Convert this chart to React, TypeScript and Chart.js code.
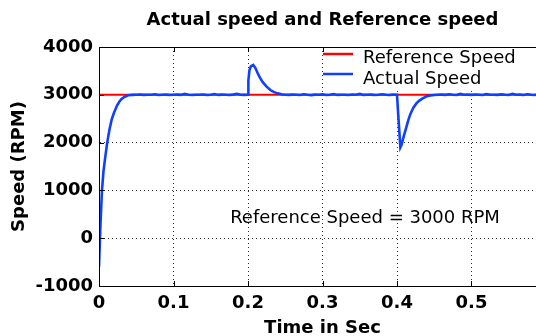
import React, { useEffect, useRef } from "react";
import { Chart, registerables } from "chart.js";

Chart.register(...registerables);

const titleText = "Actual speed and Reference speed";
const xTitle = "Time in Sec";
const yTitle = "Speed (RPM)";
const annotationText = "Reference Speed = 3000 RPM";
const legendLabels = ["Reference Speed", "Actual Speed"];

const referenceTime = [0, 0.6];
const referenceSpeed = [3000, 3000];

const actualTime = [
  0, 0.002, 0.004, 0.006, 0.008, 0.011, 0.014, 0.017, 0.02, 0.024, 0.027, 0.03, 0.034, 0.039, 0.045, 0.05,
  0.055, 0.06, 0.065, 0.07, 0.075, 0.08, 0.085, 0.09, 0.095, 0.1, 0.105, 0.11, 0.115, 0.12, 0.125, 0.13,
  0.135, 0.14, 0.145, 0.15, 0.155, 0.16, 0.165, 0.17, 0.175, 0.18, 0.185, 0.19, 0.195,
  0.2, 0.2005, 0.202, 0.204, 0.207, 0.21, 0.213, 0.216, 0.22, 0.225, 0.23, 0.235, 0.24, 0.245, 0.25,
  0.255, 0.26, 0.265, 0.27, 0.275, 0.28, 0.285, 0.29, 0.295, 0.3, 0.305, 0.31, 0.315, 0.32, 0.325, 0.33,
  0.335, 0.34, 0.345, 0.35, 0.355, 0.36, 0.365, 0.37, 0.375, 0.38, 0.385, 0.39, 0.395,
  0.4, 0.402, 0.4045, 0.406, 0.409, 0.412, 0.415, 0.418, 0.422, 0.426, 0.43, 0.435, 0.44, 0.445, 0.45, 0.455,
  0.46, 0.465, 0.47, 0.475, 0.48, 0.485, 0.49, 0.495, 0.5, 0.505, 0.51, 0.515, 0.52, 0.525, 0.53,
  0.535, 0.54, 0.545, 0.55, 0.555, 0.56, 0.565, 0.57, 0.575, 0.58, 0.585, 0.59, 0.595, 0.6,
];

const actualSpeed = [
  -600, 300, 1000, 1400, 1650, 2000, 2270, 2480, 2620, 2770, 2850, 2910, 2955, 2990, 2998, 3000,
  3005, 2998, 3002, 3000, 3012, 2996, 3000, 3004, 2995, 3000, 3003, 2998, 3018, 3000, 2997, 3002,
  3000, 3006, 2996, 3000, 3015, 2998, 3003, 3000, 2995, 3004, 3022, 3000, 2998,
  3000, 3300, 3520, 3600, 3625, 3560, 3450, 3360, 3260, 3170, 3100, 3055, 3030, 3012, 3000,
  2998, 3004, 3000, 2996, 3010, 3000, 2994, 3003, 3000, 3008, 2997, 3000, 3016, 2998, 3002, 3000,
  2995, 3005, 3000, 3020, 2998, 3000, 3004, 2996, 3000, 3012, 3000, 2997, 3003,
  3000, 2500, 1900, 1950, 2130, 2290, 2460, 2600, 2730, 2820, 2880, 2930, 2968, 2985, 2995, 3000,
  3004, 2998, 3010, 3000, 2996, 3018, 3000, 3003, 2998, 3006, 3000, 2995, 3014, 3000, 3002,
  2998, 3008, 3000, 2996, 3020, 3000, 3003, 2997, 3010, 3000, 2996, 3012, 3000, 3004,
];

const xTickStep = 0.1;
const yTickStep = 1000;

const FONT = "'DejaVu Sans', sans-serif";

export default function App() {
  const canvasRef = useRef<HTMLCanvasElement | null>(null);

  useEffect(() => {
    const canvas = canvasRef.current;
    if (!canvas) return;

    const overlay = {
      id: "overlay",
      afterDatasetsDraw(chart: any) {
        const { ctx, chartArea } = chart;
        const { left, top, right, bottom } = chartArea;
        ctx.save();
        ctx.strokeStyle = "#000";
        ctx.lineWidth = 1;
        ctx.setLineDash([]);
        const ys = chart.scales.y;
        const xs = chart.scales.x;
        ys.ticks.forEach((t: any) => {
          const py = Math.round(ys.getPixelForValue(t.value)) + 0.5;
          ctx.beginPath();
          ctx.moveTo(left, py);
          ctx.lineTo(left + 5, py);
          ctx.stroke();
        });
        xs.ticks.forEach((t: any) => {
          const px = Math.round(xs.getPixelForValue(t.value)) + 0.5;
          ctx.beginPath();
          ctx.moveTo(px, bottom);
          ctx.lineTo(px, bottom - 5);
          ctx.moveTo(px, top);
          ctx.lineTo(px, top + 5);
          ctx.stroke();
        });
        // legend box
        ctx.fillStyle = "#ffffff";
        ctx.fillRect(325, top + 1, right - 325, 43);
        const colors = ["#ff0000", "#1040ff"];
        const lineY = [54, 74];
        const textY = [63, 84];
        ctx.font = `18px ${FONT}`;
        ctx.textAlign = "left";
        ctx.textBaseline = "alphabetic";
        for (let i = 0; i < legendLabels.length; i++) {
          ctx.strokeStyle = colors[i];
          ctx.lineWidth = 2.5;
          ctx.beginPath();
          ctx.moveTo(323, lineY[i]);
          ctx.lineTo(353, lineY[i]);
          ctx.stroke();
          ctx.fillStyle = "#000";
          ctx.fillText(legendLabels[i], 363, textY[i]);
        }
        // annotation
        ctx.textAlign = "center";
        ctx.fillText(annotationText, 365, 223);
        // box
        ctx.strokeStyle = "#000";
        ctx.lineWidth = 1;
        ctx.strokeRect(left + 0.5, top + 0.5, right - left, bottom - top);
        // title
        ctx.font = `bold 18px ${FONT}`;
        ctx.textAlign = "center";
        ctx.fillText(titleText, (left + right) / 2, 25);
        ctx.restore();
      },
    };

    const chart = new Chart(canvas, {
      type: "line",
      data: {
        datasets: [
          {
            label: legendLabels[1],
            data: actualTime.map((t, i) => ({ x: t, y: actualSpeed[i] })),
            borderColor: "#1040ff",
            borderWidth: 2.6,
            pointRadius: 0,
            tension: 0,
          },
          {
            label: legendLabels[0],
            data: referenceTime.map((t, i) => ({ x: t, y: referenceSpeed[i] })),
            borderColor: "#ff0000",
            borderWidth: 2,
            pointRadius: 0,
            tension: 0,
          },
        ],
      },
      options: {
        responsive: false,
        animation: false,
        layout: { padding: { top: 47, right: 10, left: 0, bottom: 0 } },
        plugins: {
          legend: { display: false },
          title: { display: false },
          tooltip: { enabled: false },
        },
        scales: {
          x: {
            type: "linear",
            min: 0,
            max: 0.6,
            afterFit: (s: any) => {
              s.height = 50;
            },
            ticks: {
              stepSize: xTickStep,
              color: "#000",
              font: { family: FONT, size: 18, weight: "bold" },
              padding: 7,
              maxRotation: 0,
              callback: (v: any) => {
                const n = Math.round(Number(v) * 10) / 10;
                return n >= 0.6 ? "" : String(n);
              },
            },
            grid: { color: "#333", lineWidth: 1, drawTicks: false },
            border: { display: true, color: "#000", width: 1, dash: [1, 3] },
            title: {
              display: true,
              text: xTitle,
              color: "#000",
              font: { family: FONT, size: 18, weight: "bold" },
              padding: { top: 0, bottom: -3 },
            },
          },
          y: {
            type: "linear",
            min: -1000,
            max: 4000,
            afterFit: (s: any) => {
              s.width = 99;
            },
            ticks: {
              stepSize: yTickStep,
              color: "#000",
              font: { family: FONT, size: 18, weight: "bold" },
              padding: 6,
              callback: (v: any) => String(v),
            },
            grid: { color: "#333", lineWidth: 1, drawTicks: false },
            border: { display: true, color: "#000", width: 1, dash: [1, 3] },
            title: {
              display: true,
              text: yTitle,
              color: "#000",
              font: { family: FONT, size: 18, weight: "bold" },
              padding: { top: 9, bottom: 0 },
            },
          },
        },
      },
      plugins: [overlay],
    });

    return () => chart.destroy();
  }, []);

  return (
    <div
      style={{
        position: "fixed",
        left: 0,
        top: 0,
        width: 536,
        height: 336,
        overflow: "hidden",
        background: "#fff",
      }}
    >
      <canvas ref={canvasRef} width={556} height={336} style={{ display: "block" }} />
    </div>
  );
}
